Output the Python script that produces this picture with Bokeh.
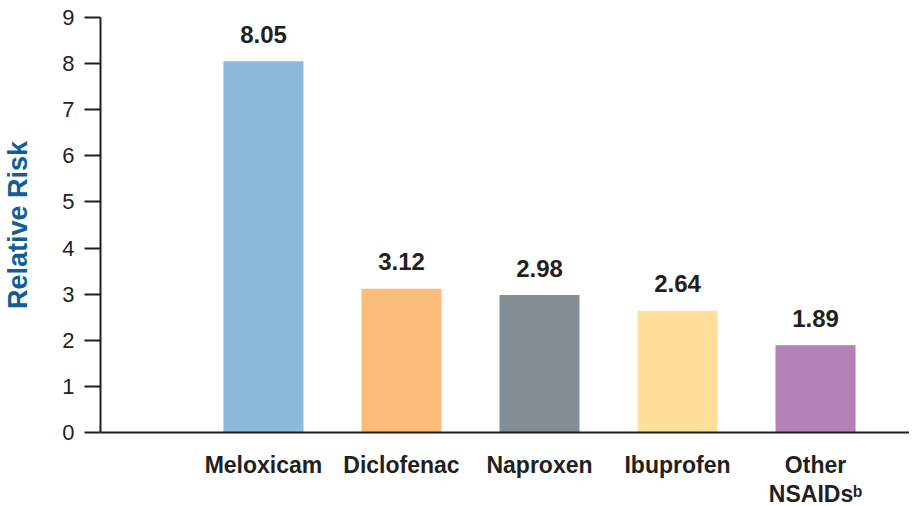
from bokeh.plotting import figure
from bokeh.models import ColumnDataSource, Range1d, FixedTicker
from bokeh.embed import file_html
from bokeh.resources import INLINE
from bokeh.core.properties import value

categories = ["Meloxicam", "Diclofenac", "Naproxen", "Ibuprofen", "Other\nNSAIDs\u1d47"]
risk = [8.05, 3.12, 2.98, 2.64, 1.89]
risk_labels = ["8.05", "3.12", "2.98", "2.64", "1.89"]
colors = ["#8bbadb", "#fbbb7a", "#868e96", "#ffdf9a", "#b380b8"]
y_ticks = [0, 1, 2, 3, 4, 5, 6, 7, 8, 9]

positions = [i + 1 for i in range(len(categories))]
src = ColumnDataSource(dict(x=positions, top=risk, lab=risk_labels, color=colors))

FONT = "Liberation Sans"
DARK = "#231f20"

p = figure(frame_width=809, frame_height=415, output_backend="svg", toolbar_location=None,
           x_range=Range1d(-0.181, 5.681), y_range=Range1d(0, 9),
           min_border_left=93, min_border_right=0, min_border_top=17, min_border_bottom=0)
p.outline_line_color = None
p.xgrid.grid_line_color = None
p.ygrid.grid_line_color = None
p.background_fill_color = "white"
p.border_fill_color = "white"

p.vbar(x="x", top="top", width=0.58, bottom=0, fill_color="color", line_color=None, source=src)
p.text(x="x", y="top", text="lab", source=src, text_font=value(FONT), text_font_style="bold",
       text_font_size="24px", text_color=DARK, text_align="center", text_baseline="alphabetic",
       y_offset=-27)

# y axis
ya = p.yaxis[0]
ya.ticker = FixedTicker(ticks=y_ticks)
ya.axis_line_color = DARK
ya.axis_line_width = 2
ya.major_tick_line_color = DARK
ya.major_tick_line_width = 2
ya.major_tick_out = 16
ya.major_tick_in = 0
ya.minor_tick_line_color = None
ya.major_label_standoff = 10
ya.major_label_text_font = FONT
ya.major_label_text_font_size = "22px"
ya.major_label_text_color = DARK
ya.axis_label = "Relative Risk"
ya.axis_label_text_font = FONT
ya.axis_label_text_font_style = "bold"
ya.axis_label_text_font_size = "27px"
ya.axis_label_text_color = "#115e96"
ya.axis_label_standoff = 26

# x axis
xa = p.xaxis[0]
xa.ticker = FixedTicker(ticks=positions)
xa.major_label_overrides = {pos: cat for pos, cat in zip(positions, categories)}
xa.axis_line_color = DARK
xa.axis_line_width = 2
xa.major_tick_line_color = None
xa.major_tick_out = 0
xa.major_tick_in = 0
xa.minor_tick_line_color = None
xa.major_label_standoff = 19
xa.major_label_text_font = FONT
xa.major_label_text_font_style = "bold"
xa.major_label_text_font_size = "23px"
xa.major_label_text_line_height = 1.12
xa.major_label_text_color = DARK

open("out.html", "w").write(file_html(p, INLINE))
